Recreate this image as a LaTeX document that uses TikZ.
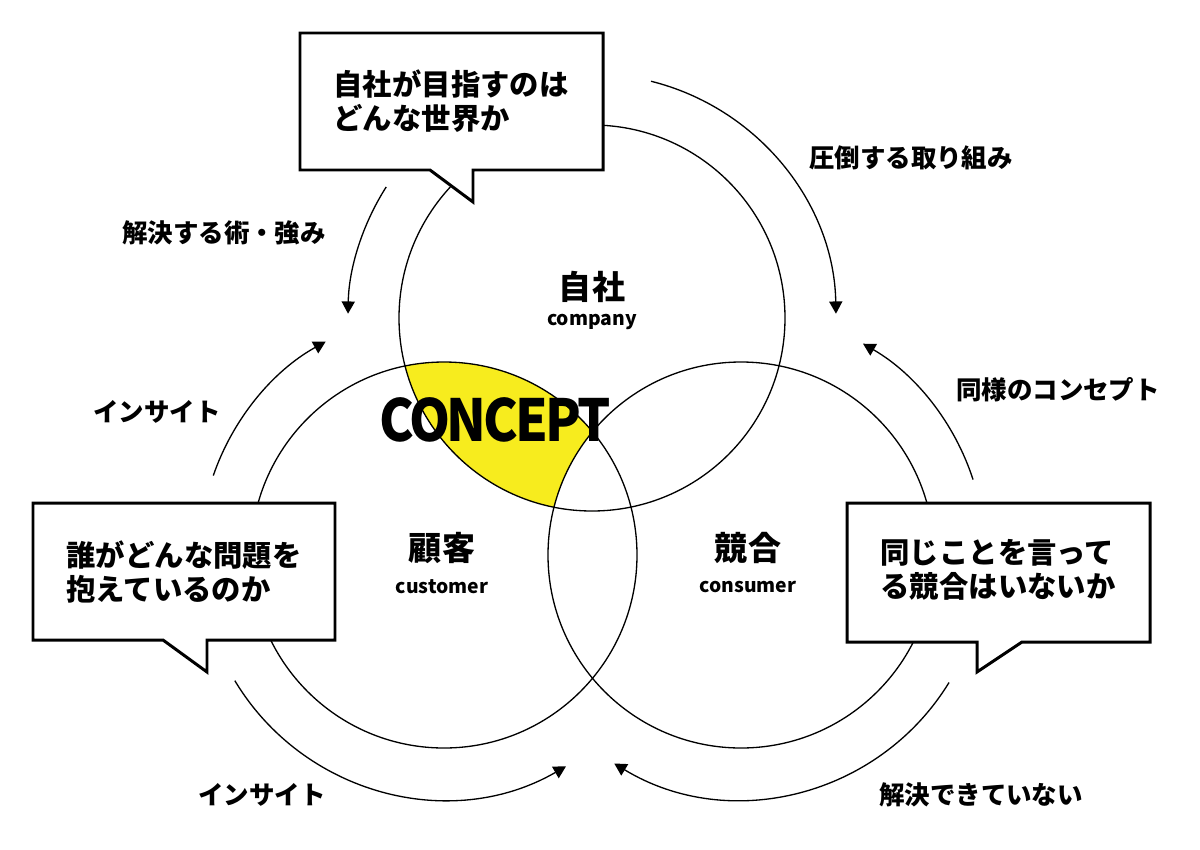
\documentclass[tikz,border=0pt]{standalone}
\usepackage{fontspec}
\setmainfont{Noto Sans CJK JP}
\usepackage{tikz}
\usetikzlibrary{arrows.meta}
\usetikzlibrary{calc}
\definecolor{conceptyellow}{RGB}{247,236,30}

\begin{document}
\begin{tikzpicture}[x=0.02cm, y=0.02cm]
\tikzstyle{ring}=[line width=0.75pt];
\tikzstyle{flow}=[line width=0.75pt, -{Triangle[length=7pt, width=7.5pt]}];
\tikzstyle{callout}=[draw, fill=white, line width=1.7pt, line join=miter];
\tikzstyle{boxtext}=[align=left, inner sep=0pt, font=\bfseries\fontsize{16.7}{19.3}\selectfont];
\tikzstyle{la}=[inner sep=0pt, font=\bfseries\fontsize{14.5}{17}\selectfont];
\tikzstyle{jp}=[inner sep=0pt, font=\bfseries\fontsize{18.8}{22}\selectfont];
\tikzstyle{en}=[inner sep=0pt, font=\bfseries\fontsize{11}{13}\selectfont];
\useasboundingbox (0,0) rectangle (1200,-849);
\coordinate (company) at (592,-318);
\coordinate (customer) at (444,-555);
\coordinate (consumer) at (741,-555);
% concept area
\begin{scope}
\clip (company) circle[radius=193];
\clip (customer) circle[radius=193];
\fill[conceptyellow] (company) circle[radius=193];
\fill[white] (consumer) circle[radius=193];
\end{scope}
\foreach \c in {company, customer, consumer}
{\draw[ring] (\c) circle[radius=193];}
% arcs round the circles
\draw[flow] ($(company)+(76:244)$) arc[start angle=76, end angle=1, radius=244];
\draw[flow] ($(company)+(147.5:244)$) arc[start angle=147.5, end angle=179, radius=244];
\draw[flow] ($(customer)+(161:244)$) arc[start angle=161, end angle=119, radius=244];
\draw[flow] ($(customer)+(211:244)$) arc[start angle=211, end angle=300, radius=244];
\draw[flow] ($(consumer)+(18:244)$) arc[start angle=18, end angle=60, radius=244];
\draw[flow] ($(consumer)+(-31.5:244)$) arc[start angle=-31.5, end angle=-121.3, radius=244];
% callouts
\draw[callout] (300,-33) -- (603,-33) -- (603,-170) -- (473,-170) -- (473,-202) -- (430,-170) -- (300,-170) -- cycle;
\draw[callout] (33,-503) -- (335,-503) -- (335,-640) -- (207,-640) -- (207,-672) -- (163,-640) -- (33,-640) -- cycle;
\draw[callout] (847,-503) -- (1150,-503) -- (1150,-642) -- (1022,-642) -- (977,-672) -- (977,-642) -- (847,-642) -- cycle;
\node[boxtext] (goal) at (451,-101) {自社が目指すのは\\どんな世界か};
\node[boxtext] (problem) at (184,-572) {誰がどんな問題を\\抱えているのか};
\node[boxtext] (rival) at (998,-570) {同じことを言って\\る競合はいないか};
% circle names
\node[jp] (companyjp) at (592,-287) {自社};
\node[en] (companyen) at (592,-322) {company};
\node[jp] (customerjp) at (442,-548) {顧客};
\node[en] (customeren) at (442,-587) {customer};
\node[jp] (consumerjp) at (748,-548) {競合};
\node[en] (consumeren) at (748,-587) {consumer};
% arc labels
\node[la] (strong) at (911,-158) {圧倒する取り組み};
\node[la] (skill) at (224,-233) {解決する術・強み};
\node[la] (insightup) at (157,-412) {インサイト};
\node[la] (same) at (1058,-390) {同様のコンセプト};
\node[la] (insightdown) at (262,-795) {インサイト};
\node[la] (unsolved) at (981,-795) {解決できていない};
\node[inner sep=0pt, font=\bfseries\fontsize{33}{36}\selectfont\addfontfeature{LetterSpace=-6}] (concept) at (495,-420) {\scalebox{0.9}[1]{CONCEPT}};
\end{tikzpicture}
\end{document}
